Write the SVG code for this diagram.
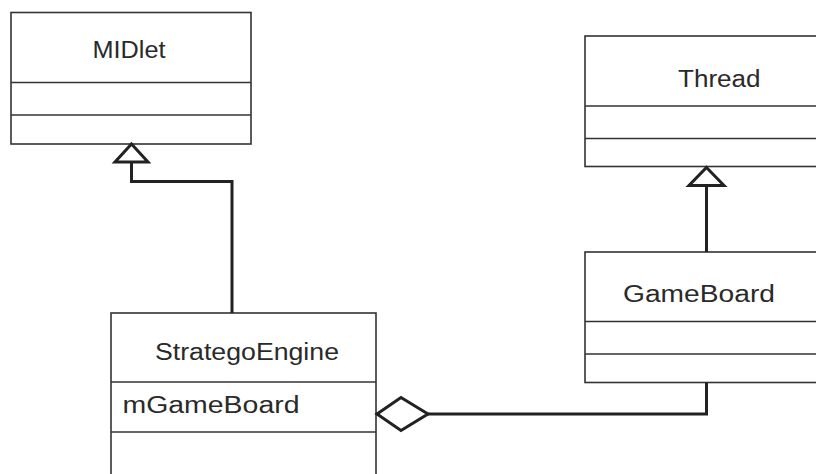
<svg xmlns="http://www.w3.org/2000/svg" width="816" height="474" viewBox="0 0 816 474">
  <style>
    .box { fill: #ffffff; stroke: #333333; stroke-width: 1.6; }
    .div { stroke: #333333; stroke-width: 1.6; }
    .lbl { font-family: "Liberation Sans", "DejaVu Sans", sans-serif; font-size: 23px; fill: #2a2a2a; }
    .conn { fill: none; stroke: #222222; stroke-width: 3; stroke-linejoin: miter; }
    .head { fill: #ffffff; stroke: #222222; stroke-width: 3; stroke-linejoin: miter; }
  </style>

  <g id="MIDlet">
    <rect class="box" x="11" y="12.5" width="240" height="131.5"/>
    <line class="div" x1="11" y1="82.5" x2="251" y2="82.5"/>
    <line class="div" x1="11" y1="115" x2="251" y2="115"/>
    <text class="lbl" x="92.5" y="58" textLength="73" lengthAdjust="spacingAndGlyphs">MIDlet</text>
  </g>

  <g id="Thread">
    <rect class="box" x="585" y="36" width="240" height="130.5"/>
    <line class="div" x1="585" y1="106" x2="825" y2="106"/>
    <line class="div" x1="585" y1="138.5" x2="825" y2="138.5"/>
    <text class="lbl" x="678" y="86.5" textLength="82.5" lengthAdjust="spacingAndGlyphs">Thread</text>
  </g>

  <g id="GameBoard">
    <rect class="box" x="585" y="252" width="240" height="130.5"/>
    <line class="div" x1="585" y1="321.5" x2="825" y2="321.5"/>
    <line class="div" x1="585" y1="354" x2="825" y2="354"/>
    <text class="lbl" x="623" y="302" textLength="152" lengthAdjust="spacingAndGlyphs">GameBoard</text>
  </g>

  <g id="StrategoEngine">
    <rect class="box" x="111" y="313" width="265" height="170"/>
    <line class="div" x1="111" y1="382" x2="376" y2="382"/>
    <line class="div" x1="111" y1="432" x2="376" y2="432"/>
    <text class="lbl" x="155" y="360" textLength="184" lengthAdjust="spacingAndGlyphs">StrategoEngine</text>
    <text class="lbl" x="122.5" y="413" textLength="177" lengthAdjust="spacingAndGlyphs">mGameBoard</text>
  </g>

  <g id="connectors">
    <!-- StrategoEngine generalizes MIDlet -->
    <polyline class="conn" points="232,313 232,181.5 131.5,181.5 131.5,162"/>
    <polygon class="head" points="131.5,144 148,162 115,162"/>
    <!-- GameBoard generalizes Thread -->
    <polyline class="conn" points="706.5,252 706.5,185.5"/>
    <polygon class="head" points="706.5,167.5 724,185.5 689,185.5"/>
    <!-- aggregation: StrategoEngine holds GameBoard -->
    <polyline class="conn" points="428,414 706.5,414 706.5,382.5"/>
    <polygon class="head" points="377,414 401,397.5 428,414 401,430.5"/>
  </g>
</svg>
